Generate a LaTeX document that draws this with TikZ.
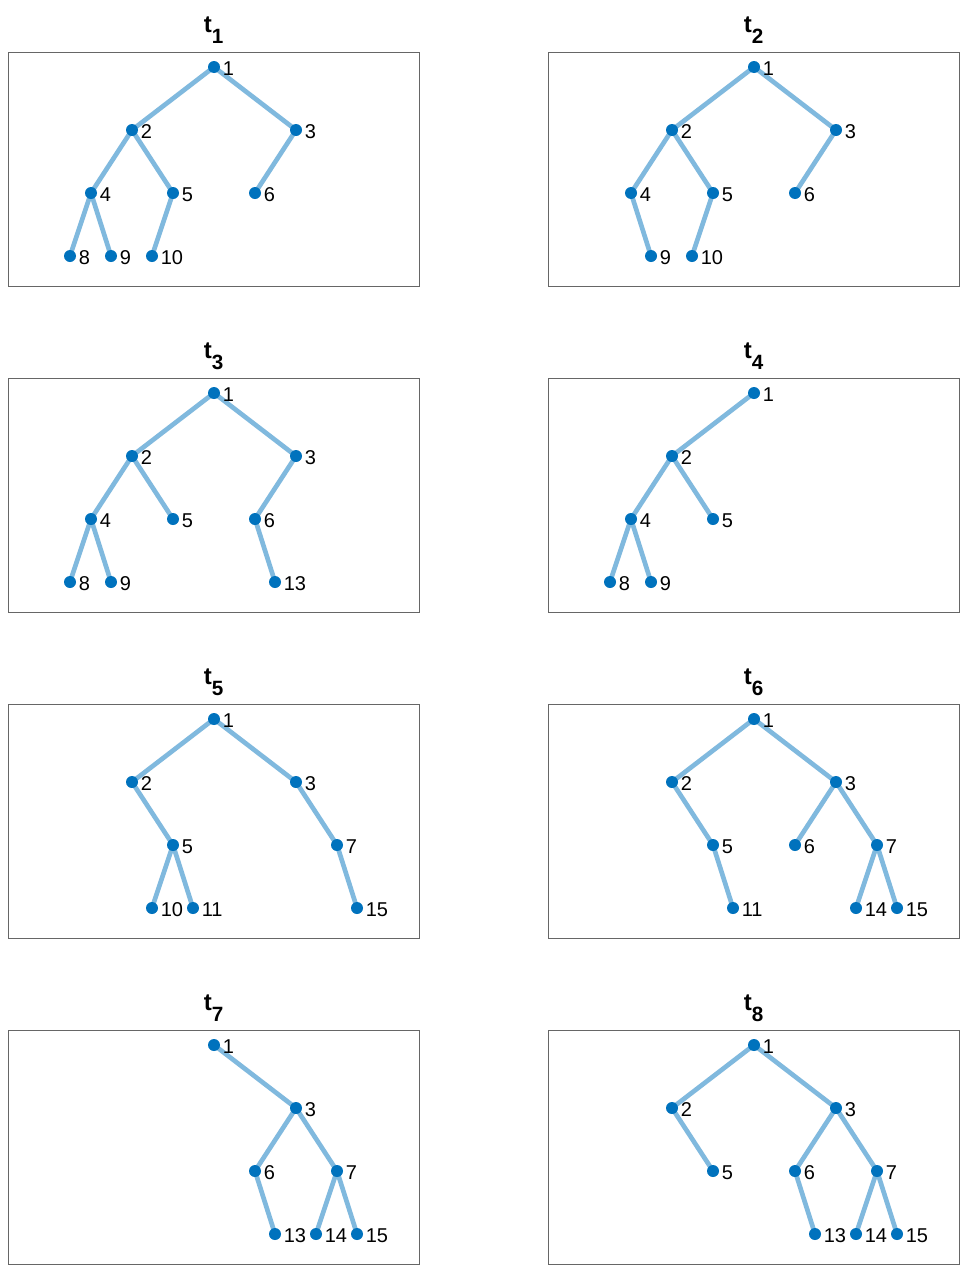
\documentclass[tikz,border=0pt]{standalone}
\usepackage{fontspec}
\setmainfont{Liberation Sans}
\usetikzlibrary{backgrounds}
\definecolor{dotblue}{RGB}{0,114,189}
\definecolor{edgeblue}{RGB}{128,185,222}
\definecolor{framegray}{gray}{0.4}
% heap positions of nodes 1..15 inside one panel (pixels, y down)
\def\posx{{214,132,296,91,173,255,337,70,111,152,193,234,275,316,357}}
\def\posy{{67,130,130,193,193,193,193,256,256,256,256,256,256,256,256}}
\begin{document}
\begin{tikzpicture}[x=0.75pt,y=-0.75pt,
  dot/.style={circle, fill=dotblue, inner sep=0pt, minimum size=9pt},
  lab/.style={anchor=base west, inner sep=0pt, font=\fontsize{15}{16}\selectfont},
  edge/.style={draw=edgeblue, line width=3.5pt},
  panel/.style={draw=framegray, line width=0.7pt},
  ttl/.style={anchor=base, inner sep=0pt, font=\fontsize{18}{19}\selectfont\bfseries},
]
  \useasboundingbox (0,0) rectangle (961,1271);
  \begin{scope}[on background layer]
    \fill[white] (0,0) rectangle (961,1271);
  \end{scope}

  \foreach \p/\dx/\dy/\nodes in {
      1/0/0/{1,2,3,4,5,6,8,9,10},
      2/540/0/{1,2,3,4,5,6,9,10},
      3/0/326/{1,2,3,4,5,6,8,9,13},
      4/540/326/{1,2,4,5,8,9},
      5/0/652/{1,2,3,5,7,10,11,15},
      6/540/652/{1,2,3,5,6,7,11,14,15},
      7/0/978/{1,3,6,7,13,14,15},
      8/540/978/{1,2,3,5,6,7,13,14,15}} {
    \begin{scope}[shift={(\dx,\dy)}]
      % frame and title
      \draw[panel] (8,52) rectangle (419,286);
      \node[ttl] (t\p-title) at (213.5,32)
        {t\raisebox{-8.25pt}{\fontsize{15.5}{16}\selectfont \p}};
      \foreach \k in \nodes {
        \pgfmathsetmacro\nx{\posx[\k-1]}
        \pgfmathsetmacro\ny{\posy[\k-1]}
        \node[dot] (t\p-n\k) at (\nx,\ny) {};
        \node[lab] (t\p-l\k) at (\nx+8.5,\ny+8) {\k};
        \ifnum\k>1
          \pgfmathtruncatemacro\up{floor(\k/2)}
          \begin{scope}[on background layer]
            \draw[edge] (t\p-n\up.center) -- (t\p-n\k.center);
          \end{scope}
        \fi
      }
    \end{scope}
  }
\end{tikzpicture}
\end{document}
